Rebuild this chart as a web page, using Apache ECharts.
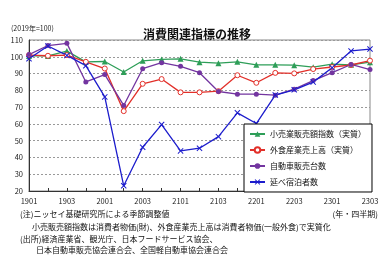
<!DOCTYPE html>
<html><head><meta charset="utf-8">
<script src="https://cdn.jsdelivr.net/npm/echarts@6/dist/echarts.min.js"></script>
<style>html,body{margin:0;padding:0;background:#fff}#c{width:390px;height:276px}</style>
</head><body><div id="c"></div>
<script>
var categories = ['1901','1902','1903','1904','2001','2002','2003','2004','2101','2102','2103','2104','2201','2202','2203','2204','2301','2302','2303'];
var retail = [100.5, 100.5, 103.4, 97, 97.2, 90.9, 97.6, 98.4, 98.8, 96.8, 96.2, 97, 95.2, 95.2, 95, 93.8, 95.6, 95.2, 96.8];
var dining = [101, 100.6, 101, 97, 93, 67.6, 83.9, 86.7, 78.8, 78.8, 79.5, 89, 84.5, 90.4, 90.1, 92.7, 93.9, 95.1, 97.7];
var autos = [101.3, 106.7, 108, 85, 89.4, 71, 92.9, 96.5, 94.3, 90.5, 79.3, 77.7, 77.7, 77.1, 80.7, 85.8, 90.5, 95.4, 92.4];
var stays = [98.8, 106.4, 100.8, 94.7, 76.1, 23.1, 46.1, 59.6, 43.9, 45.5, 52.4, 66.6, 60.2, 77.2, 80.3, 84.9, 93.5, 103.5, 104.6];
var names = ['小売業販売額指数（実質）','外食産業売上高（実質）','自動車販売台数','延べ宿泊者数'];
var yTicks = {min: 20, max: 110, interval: 10};

var FF = '"Noto Sans CJK JP", sans-serif';
var xPath = 'path://M0,1.2L1.2,0L5,3.8L8.8,0L10,1.2L6.2,5L10,8.8L8.8,10L5,6.2L1.2,10L0,8.8L3.8,5Z';
function mk(name, data, color, symbol, size, fill) {
  return {
    name: name, type: 'line', data: data, symbol: symbol, symbolSize: size,
    lineStyle: {color: color, width: 1.3},
    itemStyle: {color: fill || color, borderColor: color, borderWidth: fill ? 1 : 0},
    emphasis: {disabled: true}, animation: false
  };
}
var chart = echarts.init(document.getElementById('c'));
chart.setOption({
  animation: false,
  textStyle: {fontFamily: FF},
  title: {text: '消費関連指標の推移', left: 138, top: 23,
    textStyle: {fontSize: 12, fontWeight: 'bold', color: '#111', fontFamily: FF}},
  grid: {left: 29, right: 20, top: 40, bottom: 85, show: true, borderColor: '#888', borderWidth: 1},
  legend: {
    orient: 'vertical', left: 244, top: 124, width: 105,
    itemGap: 8, itemWidth: 15, itemHeight: 7,
    backgroundColor: '#fff', borderColor: '#000', borderWidth: 1,
    padding: [6, 6, 6, 5],
    textStyle: {fontSize: 8, color: '#111', fontFamily: FF},
    data: names
  },
  xAxis: {
    type: 'category', data: categories, boundaryGap: false,
    axisLine: {lineStyle: {color: '#333', width: 1}},
    axisTick: {show: true, inside: true, length: 3, interval: 0, lineStyle: {color: '#333'}},
    axisLabel: {interval: 1, fontSize: 7.5, color: '#222', margin: 6, fontFamily: FF}
  },
  yAxis: {
    type: 'value', min: yTicks.min, max: yTicks.max, interval: yTicks.interval,
    axisLine: {show: true, lineStyle: {color: '#333', width: 1}},
    axisTick: {show: false},
    splitLine: {lineStyle: {color: '#999', type: [2, 2], width: 1}},
    axisLabel: {fontSize: 7.5, color: '#222', margin: 6, fontFamily: FF}
  },
  series: [
    mk(names[0], retail, '#2e9e58', 'triangle', 6),
    mk(names[1], dining, '#e2302a', 'circle', 5, '#fff'),
    mk(names[2], autos, '#7335a0', 'circle', 5),
    mk(names[3], stays, '#1c1ccc', xPath, 6)
  ],
  graphic: [
    {type: 'text', left: 11, top: 25, style: {text: '(2019年=100)', font: '7px ' + FF, fill: '#222'}},
    {type: 'text', left: 20, top: 210, style: {text: '(注)ニッセイ基礎研究所による季節調整値', font: '8px ' + FF, fill: '#111'}},
    {type: 'text', right: 12, top: 210, style: {text: '(年・四半期)', font: '8px ' + FF, fill: '#111'}},
    {type: 'text', left: 32, top: 223, style: {text: '小売販売額指数は消費者物価(財)、外食産業売上高は消費者物価(一般外食)で実質化', font: '8px ' + FF, fill: '#111'}},
    {type: 'text', left: 20, top: 235, style: {text: '(出所)経済産業省、観光庁、日本フードサービス協会、', font: '8px ' + FF, fill: '#111'}},
    {type: 'text', left: 36, top: 246, style: {text: '日本自動車販売協会連合会、全国軽自動車協会連合会', font: '8px ' + FF, fill: '#111'}}
  ]
});
</script></body></html>
